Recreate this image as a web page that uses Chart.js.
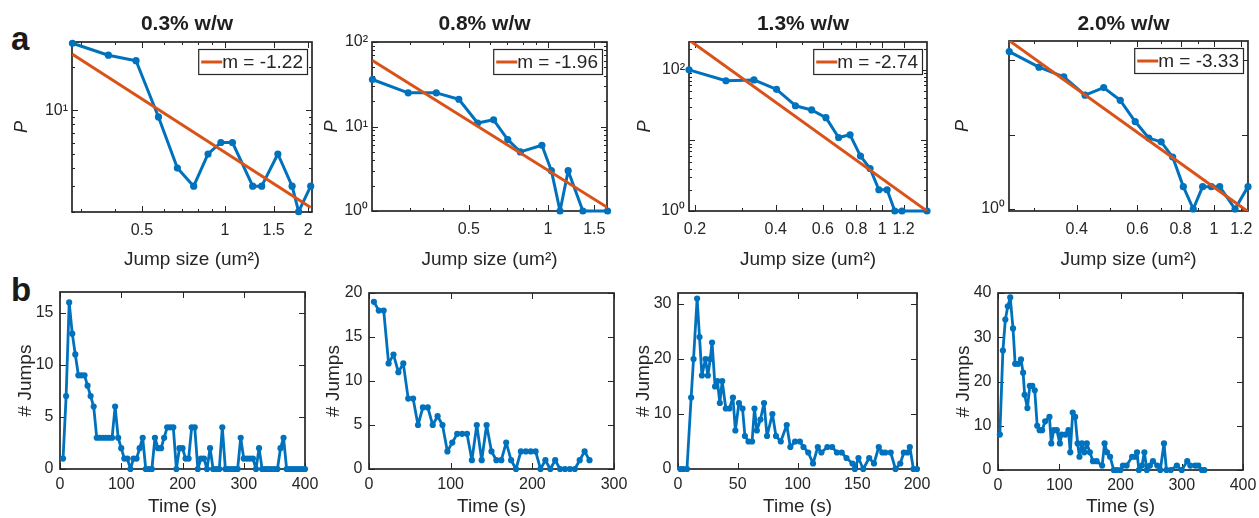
<!DOCTYPE html>
<html><head><meta charset="utf-8">
<script src="https://cdn.jsdelivr.net/npm/chart.js"></script>
<style>
html,body{margin:0;padding:0;background:#fff;width:1259px;height:518px;overflow:hidden;position:relative}
canvas{position:absolute}
.lab{position:absolute;font:bold 33px "Liberation Sans",Arial,sans-serif;color:#1a1a1a;line-height:33px}
</style></head><body>
<div class="lab" style="left:11px;top:22px">a</div>
<div class="lab" style="left:11px;top:273px">b</div>
<script>
// ---------------- data ----------------
const titles = ['0.3% w/w', '0.8% w/w', '1.3% w/w', '2.0% w/w'];
const slopeLabels = ['m = -1.22', 'm = -1.96', 'm = -2.74', 'm = -3.33'];

// Row a: jump-size distributions (log-log)
const a1Size = [0.28, 0.378, 0.476, 0.574, 0.672, 0.77, 0.868, 0.966, 1.064, 1.26, 1.358, 1.554, 1.75, 1.848, 2.044];
const a1P    = [29, 24, 22, 9, 4, 3, 5, 6, 6, 3, 3, 5, 3, 2, 3];
const a1FitSize = [0.28, 2.044];
const a1FitP    = [24.4, 2.14];

const a2Size = [0.215, 0.294, 0.376, 0.458, 0.54, 0.621, 0.703, 0.785, 0.948, 1.03, 1.111, 1.193, 1.357, 1.684];
const a2P    = [36, 25, 25, 21, 11, 12, 7, 5, 6, 3, 1, 3, 1, 1];
const a2FitSize = [0.215, 1.684];
const a2FitP    = [60.4, 1.1];

const a3Size = [0.19, 0.261, 0.332, 0.403, 0.474, 0.545, 0.616, 0.687, 0.758, 0.829, 0.9, 0.971, 1.042, 1.113, 1.184, 1.468];
const a3P    = [100, 70, 72, 53, 31, 27, 21, 11, 12, 6, 4, 2, 2, 1, 1, 1];
const a3FitSize = [0.19, 1.468];
const a3FitP    = [265, 1.0];

const a4Size = [0.255, 0.311, 0.367, 0.423, 0.479, 0.535, 0.591, 0.647, 0.703, 0.759, 0.815, 0.871, 0.927, 0.983, 1.039, 1.151, 1.255];
const a4P    = [131, 81, 60, 34, 43, 29, 15, 9, 8, 5, 2, 1, 2, 2, 2, 1, 2];
const a4FitSize = [0.255, 1.255];
const a4FitP    = [184, 0.92];

// Row b: number of jumps vs time
const b1T = [5,10,15,20,25,30,35,40,45,50,55,60,65,70,75,80,85,90,95,100,105,110,115,120,125,130,135,140,145,150,155,160,165,170,175,180,185,190,195,200,205,210,215,220,225,230,235,240,245,250,255,260,265,270,275,280,285,290,295,300,305,310,315,320,325,330,335,340,345,350,355,360,365,370,375,380,385,390,395,400];
const b1N = [1,7,16,13,11,9,9,9,8,7,6,3,3,3,3,3,3,6,3,2,1,1,0,1,1,2,3,0,0,0,3,2,2,3,4,4,4,0,2,2,1,1,4,4,0,1,1,0,2,0,0,0,4,0,0,0,0,0,3,1,1,1,1,0,2,0,0,0,0,0,0,2,3,0,0,0,0,0,0,0];

const b2T = [6,12,18,24,30,36,42,48,54,60,66,72,78,84,90,96,102,108,114,120,126,132,138,144,150,156,162,168,174,180,186,192,198,204,210,216,222,228,234,240,246,252,258,264,270];
const b2N = [19,18,18,12,13,11,12,8,8,5,7,7,5,6,5,2,3,4,4,4,1,5,1,5,2,1,1,3,1,0,2,2,2,2,0,1,0,1,0,0,0,0,1,2,1];

const b3T = [2,4.5,7.5,11,13,16,18,20,23,25,27,28.5,31,33,35,37,40,43,46,48,51,54,56,59,62,64,66,69,72,74.5,79,82,86,91,94,98,102,105,109,113,117,120,125,129,133,137,141,146,148,151,155,160,164,168,171,173.5,178,182,186,189,192,194,197,200];
const b3N = [0,0,0,13,20,31,24,17,20,17,20,23,15,16,12,16,11,11,13,7,12,11,6,5,5,11,7,9,12,6,10,6,5,8,4,5,5,4,3,1,4,3,4,4,3,3,2,1,0,2,0,2,1,4,3,3,3,0,1,3,3,4,0,0];

const b4T = [3,8,12,16,20,24.5,28,33,37.5,41,43.5,48,52,56,60,64,68,72,77,84,87,91,96,101,104,110,115,118,122,126,130,133,137,141,145,150,155,161,170,174,178,183,189,194,200,204,210,219,224,227,230,235,239,243,248,253,260,265,271,275,282,292,300,309,314,322,327,333,337];
const b4N = [8,27,34,37,39,32,24,24,25,22,17,14,19,19,18,10,9,9,11,12,6,9,9,6,8,8,9,4,13,12,6,3,6,4,6,4,2,2,1,6,4,3,0,0,0,1,1,3,3,4,0,1,4,0,1,2,1,0,6,0,0,1,0,2,1,1,1,0,0];

// tick values / labels
const a1XTicks = [0.5, 1, 1.5, 2], a1XLabels = ['0.5', '1', '1.5', '2'], a1XMinor = [0.3, 0.4, 0.6, 0.7, 0.8, 0.9];
const a1YTicks = [10], a1YLabels = ['10\u00B9'], a1YMinor = [2, 3, 4, 5, 6, 7, 8, 9, 20];
const a2XTicks = [0.5, 1, 1.5], a2XLabels = ['0.5', '1', '1.5'], a2XMinor = [0.3, 0.4, 0.6, 0.7, 0.8, 0.9];
const a2YTicks = [1, 10, 100], a2YLabels = ['10\u2070', '10\u00B9', '10\u00B2'], a2YMinor = [2, 3, 4, 5, 6, 7, 8, 9, 20, 30, 40, 50, 60, 70, 80, 90];
const a3XTicks = [0.2, 0.4, 0.6, 0.8, 1, 1.2], a3XLabels = ['0.2', '0.4', '0.6', '0.8', '1', '1.2'], a3XMinor = [0.3, 0.5, 0.7, 0.9];
const a3YTicks = [1, 10, 100], a3YLabels = ['10\u2070', '', '10\u00B2'], a3YMinor = [2, 3, 4, 5, 6, 7, 8, 9, 20, 30, 40, 50, 60, 70, 80, 90, 200];
const a4XTicks = [0.4, 0.6, 0.8, 1, 1.2], a4XLabels = ['0.4', '0.6', '0.8', '1', '1.2'], a4XMinor = [0.3, 0.5, 0.7, 0.9];
const a4YTicks = [1, 10, 100], a4YLabels = ['10\u2070', '', ''], a4YMinor = [];
const b1XTicks = [0, 100, 200, 300, 400], b1YTicks = [0, 5, 10, 15];
const b2XTicks = [0, 100, 200, 300], b2YTicks = [0, 5, 10, 15, 20];
const b3XTicks = [0, 50, 100, 150, 200], b3YTicks = [0, 10, 20, 30];
const b4XTicks = [0, 100, 200, 300, 400], b4YTicks = [0, 10, 20, 30, 40];

// ---------------- drawing ----------------
const FONT = '"Liberation Sans", Arial, Helvetica, sans-serif';
const INK = '#262626';
const BLUE = '#0072BD';
const ORANGE = '#D95319';
Chart.defaults.font.family = FONT;
Chart.defaults.color = INK;

const deco = {
  id: 'deco',
  beforeDatasetsDraw(chart, args, o) {
    const {ctx, chartArea: a} = chart;
    const sx = chart.scales.x, sy = chart.scales.y;
    ctx.save();
    ctx.strokeStyle = INK;
    ctx.lineWidth = 1;
    const tick = (scale, vals, len) => {
      (vals || []).forEach(v => {
        if (v < scale.min || v > scale.max) return;
        const p = Math.round(scale.getPixelForValue(v)) + 0.5;
        ctx.beginPath();
        if (scale.isHorizontal()) {
          ctx.moveTo(p, a.bottom); ctx.lineTo(p, a.bottom - len);
          ctx.moveTo(p, a.top); ctx.lineTo(p, a.top + len);
        } else {
          ctx.moveTo(a.left, p); ctx.lineTo(a.left + len, p);
          ctx.moveTo(a.right, p); ctx.lineTo(a.right - len, p);
        }
        ctx.stroke();
      });
    };
    tick(sx, o.xMajor, 6); tick(sx, o.xMinor, 3);
    tick(sy, o.yMajor, 6); tick(sy, o.yMinor, 3);
    ctx.lineWidth = 1.7;
    ctx.strokeRect(a.left, a.top, a.right - a.left, a.bottom - a.top);
    ctx.restore();
  },
  afterDatasetsDraw(chart, args, o) {
    const {ctx, chartArea: a} = chart;
    ctx.save();
    if (o.title) {
      ctx.font = 'bold 21px ' + FONT;
      ctx.fillStyle = '#1f1f1f';
      ctx.textAlign = 'center';
      ctx.textBaseline = 'middle';
      ctx.fillText(o.title, (a.left + a.right) / 2 - 5, o.titleY);
    }
    if (o.legend) {
      ctx.font = '19px ' + FONT;
      const tw = ctx.measureText(o.legend).width;
      const bw = 25 + tw + 3, bh = 25;
      const bx = a.right - 5 - bw, by = a.top + 7;
      ctx.fillStyle = '#fff';
      ctx.fillRect(bx, by, bw, bh);
      ctx.strokeStyle = INK; ctx.lineWidth = 1.2;
      ctx.strokeRect(bx + 0.5, by + 0.5, bw, bh);
      const ds = chart.data.datasets[1];
      ctx.strokeStyle = ds.borderColor; ctx.lineWidth = 3;
      ctx.beginPath(); ctx.moveTo(bx + 3, by + bh / 2 + 0.5); ctx.lineTo(bx + 24, by + bh / 2 + 0.5); ctx.stroke();
      ctx.fillStyle = INK; ctx.textAlign = 'left'; ctx.textBaseline = 'middle';
      ctx.fillText(o.legend, bx + 24, by + bh / 2 + 1.5);
    }
    ctx.restore();
  }
};

function panel(L, D) {
  const lhY = D.yTitleSize * 1.2, lhX = 19 * 1.2;
  const cLeft = Math.round(L.yTitleX - lhY / 2);
  const cTop = L.cTop;
  const padR = 26;
  const cRight = L.plot.r + padR;
  const cBottom = Math.min(518, Math.round(L.xTitleY + lhX / 2));
  const W = cRight - cLeft, H = cBottom - cTop;
  const cv = document.createElement('canvas');
  cv.width = W; cv.height = H;
  cv.style.left = cLeft + 'px'; cv.style.top = cTop + 'px';
  cv.style.width = W + 'px'; cv.style.height = H + 'px';
  document.body.appendChild(cv);
  const yW = L.plot.l - cLeft, xH = cBottom - L.plot.b;
  const type = D.log ? 'logarithmic' : 'linear';
  const datasets = [{
    data: D.x.map((v, i) => ({x: v, y: D.y[i]})),
    borderColor: BLUE, backgroundColor: BLUE,
    borderWidth: D.log ? 3 : 2.8, pointRadius: D.log ? 3.6 : 3.1, pointBorderWidth: 0,
    borderJoinStyle: 'round', borderCapStyle: 'round',
    pointHoverRadius: 0, tension: 0, clip: false, order: 1
  }];
  if (D.fitX) datasets.push({
    data: D.fitX.map((v, i) => ({x: v, y: D.fitY[i]})),
    borderColor: ORANGE, backgroundColor: ORANGE, borderWidth: 3,
    pointRadius: 0, tension: 0, order: 0
  });
  new Chart(cv, {
    type: 'line',
    data: {datasets},
    options: {
      responsive: false, animation: false, events: [],
      layout: {padding: {left: 0, right: padR, top: L.plot.t - cTop, bottom: 0}},
      plugins: {
        legend: {display: false}, tooltip: {enabled: false},
        deco: {
          xMajor: D.xTicks, xMinor: D.xMinor, yMajor: D.yTicks, yMinor: D.yMinor,
          title: D.title, titleY: D.title ? 24 - cTop : 0, legend: D.legend
        }
      },
      scales: {
        x: {
          type, min: D.xMin, max: D.xMax,
          grid: {display: false, drawTicks: false}, border: {display: false},
          afterBuildTicks: s => { s.ticks = D.xTicks.map(v => ({value: v})); },
          afterFit: s => { s.height = xH; },
          ticks: {autoSkip: false, maxRotation: 0, minRotation: 0, padding: D.log ? 8.5 : 5.5,
                  font: {size: 16}, color: INK,
                  callback: (v, i) => D.xLabels ? D.xLabels[i] : String(v)},
          title: {display: true, text: D.xTitle, font: {size: 19}, color: INK, padding: 0}
        },
        y: {
          type, min: D.yMin, max: D.yMax,
          grid: {display: false, drawTicks: false}, border: {display: false},
          afterBuildTicks: s => { s.ticks = D.yTicks.map(v => ({value: v})); },
          afterFit: s => { s.width = yW; },
          ticks: {autoSkip: false, padding: D.log ? 4 : 6.5, font: {size: 16}, color: INK,
                  callback: (v, i) => D.yLabels ? D.yLabels[i] : String(v)},
          title: {display: true, text: D.yTitle, color: INK, padding: 0,
                  font: {size: D.yTitleSize, style: D.log ? 'italic' : 'normal'}}
        }
      }
    },
    plugins: [deco]
  });
}

const XT = 'Jump size (um\u00B2)';
panel({plot: {l: 72, t: 42, r: 312, b: 212}, yTitleX: 21.7, xTitleY: 260, cTop: 0},
  {log: true, x: a1Size, y: a1P, fitX: a1FitSize, fitY: a1FitP, xMin: 0.279, xMax: 2.066, yMin: 1.99, yMax: 29.6,
   xTicks: a1XTicks, xLabels: a1XLabels, xMinor: a1XMinor, yTicks: a1YTicks, yLabels: a1YLabels, yMinor: a1YMinor,
   xTitle: XT, yTitle: 'P', yTitleSize: 18, title: titles[0], legend: slopeLabels[0]});
panel({plot: {l: 372, t: 42, r: 607, b: 211}, yTitleX: 331.7, xTitleY: 260, cTop: 0},
  {log: true, x: a2Size, y: a2P, fitX: a2FitSize, fitY: a2FitP, xMin: 0.2142, xMax: 1.676, yMin: 1, yMax: 100,
   xTicks: a2XTicks, xLabels: a2XLabels, xMinor: a2XMinor, yTicks: a2YTicks, yLabels: a2YLabels, yMinor: a2YMinor,
   xTitle: XT, yTitle: 'P', yTitleSize: 18, title: titles[1], legend: slopeLabels[1]});
panel({plot: {l: 689, t: 42, r: 927, b: 211}, yTitleX: 645, xTitleY: 260, cTop: 0},
  {log: true, x: a3Size, y: a3P, fitX: a3FitSize, fitY: a3FitP, xMin: 0.19, xMax: 1.468, yMin: 1, yMax: 248,
   xTicks: a3XTicks, xLabels: a3XLabels, xMinor: a3XMinor, yTicks: a3YTicks, yLabels: a3YLabels, yMinor: a3YMinor,
   xTitle: XT, yTitle: 'P', yTitleSize: 18, title: titles[2], legend: slopeLabels[2]});
panel({plot: {l: 1009, t: 41, r: 1248, b: 211}, yTitleX: 963, xTitleY: 260, cTop: 0},
  {log: true, x: a4Size, y: a4P, fitX: a4FitSize, fitY: a4FitP, xMin: 0.2546, xMax: 1.255, yMin: 0.94, yMax: 182,
   xTicks: a4XTicks, xLabels: a4XLabels, xMinor: a4XMinor, yTicks: a4YTicks, yLabels: a4YLabels, yMinor: a4YMinor,
   xTitle: XT, yTitle: 'P', yTitleSize: 18, title: titles[3], legend: slopeLabels[3]});

panel({plot: {l: 60, t: 292, r: 305, b: 469}, yTitleX: 25, xTitleY: 507, cTop: 270},
  {log: false, x: b1T, y: b1N, xMin: 0, xMax: 400, yMin: 0, yMax: 17, xTicks: b1XTicks, yTicks: b1YTicks,
   xTitle: 'Time (s)', yTitle: '# Jumps', yTitleSize: 19});
panel({plot: {l: 369, t: 293, r: 614, b: 469}, yTitleX: 333.3, xTitleY: 507, cTop: 270},
  {log: false, x: b2T, y: b2N, xMin: 0, xMax: 300, yMin: 0, yMax: 20, xTicks: b2XTicks, yTicks: b2YTicks,
   xTitle: 'Time (s)', yTitle: '# Jumps', yTitleSize: 19});
panel({plot: {l: 678, t: 293, r: 917, b: 469}, yTitleX: 643.3, xTitleY: 507, cTop: 270},
  {log: false, x: b3T, y: b3N, xMin: 0, xMax: 200, yMin: 0, yMax: 32, xTicks: b3XTicks, yTicks: b3YTicks,
   xTitle: 'Time (s)', yTitle: '# Jumps', yTitleSize: 19});
panel({plot: {l: 998, t: 293, r: 1243, b: 470}, yTitleX: 963.3, xTitleY: 507, cTop: 270},
  {log: false, x: b4T, y: b4N, xMin: 0, xMax: 400, yMin: 0, yMax: 40, xTicks: b4XTicks, yTicks: b4YTicks,
   xTitle: 'Time (s)', yTitle: '# Jumps', yTitleSize: 19});
</script></body></html>
